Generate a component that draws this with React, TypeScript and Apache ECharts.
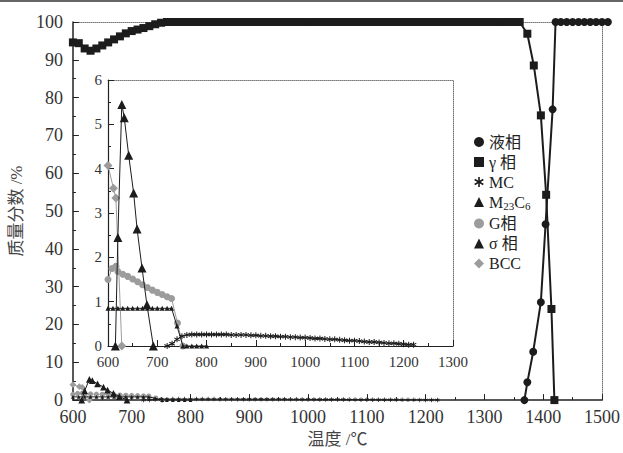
import React, { useEffect, useRef } from "react";
import * as echarts from "echarts";

// ---- data (temperature °C, mass fraction %) ----
const gammaT = [
  600, 610, 620, 630, 640, 650, 660, 670, 680, 690, 700, 710, 720, 730, 740, 750,
  760, 770, 780, 790, 800, 810, 820, 830, 840, 850,
  860, 870, 880, 890, 900, 910, 920, 930, 940, 950,
  960, 970, 980, 990, 1000, 1010, 1020, 1030, 1040, 1050,
  1060, 1070, 1080, 1090, 1100, 1110, 1120, 1130, 1140, 1150,
  1160, 1170, 1180, 1190, 1200, 1210, 1220, 1230, 1240, 1250,
  1260, 1270, 1280, 1290, 1300, 1310, 1320, 1330, 1340, 1350,
  1360, 1373, 1384, 1396, 1405, 1414, 1419,
];
const gammaV = [
  94.6, 94.4, 93.0, 92.4, 93.0, 93.8, 94.6, 95.4, 96.2, 97.0, 97.6, 98.0, 98.4, 98.9, 99.4, 99.8,
  100, 100, 100, 100, 100, 100, 100, 100, 100, 100,
  100, 100, 100, 100, 100, 100, 100, 100, 100, 100,
  100, 100, 100, 100, 100, 100, 100, 100, 100, 100,
  100, 100, 100, 100, 100, 100, 100, 100, 100, 100,
  100, 100, 100, 100, 100, 100, 100, 100, 100, 100,
  100, 100, 100, 100, 100, 100, 100, 100, 100, 100,
  100, 96.9, 88.5, 75.3, 54.3, 24.1, 0,
];

const liquidT = [1368, 1373, 1383, 1396, 1404, 1416, 1421, 1430, 1440, 1450, 1460, 1470, 1480, 1490, 1500, 1510];
const liquidV = [0, 4.7, 12.8, 25.9, 46.5, 76.9, 100, 100, 100, 100, 100, 100, 100, 100, 100, 100];

const mcT = [
  720, 730, 740, 750, 760, 770, 780, 790, 800, 810,
  820, 830, 840, 850, 860, 870, 880, 890, 900, 910,
  920, 930, 940, 950, 960, 970, 980, 990, 1000, 1010,
  1020, 1030, 1040, 1050, 1060, 1070, 1080, 1090, 1100, 1110,
  1120, 1130, 1140, 1150, 1160, 1170, 1180, 1190, 1200, 1210,
  1220,
];
const mcV = [
  0, 0.05, 0.15, 0.22, 0.25, 0.26, 0.26, 0.26, 0.26, 0.26,
  0.26, 0.26, 0.26, 0.25, 0.25, 0.25, 0.25, 0.24, 0.24, 0.23,
  0.23, 0.22, 0.22, 0.21, 0.21, 0.2, 0.2, 0.19, 0.19, 0.18,
  0.17, 0.17, 0.16, 0.15, 0.15, 0.14, 0.13, 0.12, 0.12, 0.11,
  0.1, 0.09, 0.09, 0.08, 0.07, 0.06, 0.06, 0.05, 0.04, 0.03,
  0.03,
];

const m23T = [600, 610, 620, 630, 640, 650, 660, 670, 680, 690, 700, 710, 720, 729, 740, 752, 760, 770, 780, 790, 800];
const m23V = [0.85, 0.85, 0.85, 0.85, 0.85, 0.85, 0.85, 0.85, 0.85, 0.85, 0.85, 0.85, 0.85, 0.85, 0.45, 0, 0, 0, 0, 0, 0];

const gT = [600, 608, 616, 620, 630, 640, 650, 660, 670, 680, 690, 700, 710, 720, 729, 741, 752];
const gV = [1.5, 1.75, 1.8, 1.68, 1.62, 1.57, 1.51, 1.45, 1.38, 1.32, 1.26, 1.21, 1.16, 1.11, 1.07, 0.52, 0];

const sigmaT = [615, 620, 628, 633, 642, 652, 659, 669, 679, 692];
const sigmaV = [0, 2.45, 5.45, 5.15, 4.3, 3.45, 2.64, 1.76, 0.93, 0];

const bccT = [600, 611, 616, 628];
const bccV = [4.07, 3.56, 3.34, 0];

const mainXTicks = { min: 600, max: 1500, interval: 100 };
const mainYTicks = { min: 0, max: 100, interval: 10 };
const insetXTicks = { min: 600, max: 1300, interval: 100 };
const insetYTicks = { min: 0, max: 6, interval: 1 };

const ASTERISK =
  "path://M-0.8,-5L0.8,-5L0.8,5L-0.8,5Z" +
  "M3.93,3.19L-4.73,-1.81L-3.93,-3.19L4.73,1.81Z" +
  "M-4.73,1.81L3.93,-3.19L4.73,-1.81L-3.93,3.19Z";

const zip = (t: number[], v: number[]) => t.map((x, i) => [x, v[i]]);

const SERIF = "Liberation Serif, Times New Roman, Noto Sans CJK SC, serif";
const BLACK = "#1c1c1c";
const GRAY = "#9c9c9c";
const plain = (v: number) => String(v);

export default function App() {
  const ref = useRef<HTMLDivElement>(null);
  useEffect(() => {
    if (!ref.current) return;
    const chart = echarts.init(ref.current, undefined, { renderer: "svg" });

    const solidAxis = (fs: number, margin: number, lw: number) => ({
      axisLine: { show: true, onZero: false, lineStyle: { color: "#222", width: lw } },
      axisTick: { show: true, inside: true, length: 6, lineStyle: { color: "#222", width: 1 } },
      minorTick: { show: true, splitNumber: 2, length: 3, lineStyle: { color: "#222", width: 1 } },
      splitLine: { show: false },
      axisLabel: { fontSize: fs, fontFamily: SERIF, color: "#333", margin, formatter: plain },
    });
    const dottedAxis = {
      axisLine: { show: true, onZero: false, lineStyle: { color: "#777", width: 1, type: "dotted" } },
      axisTick: { show: false },
      axisLabel: { show: false },
      splitLine: { show: false },
    };

    const small = (
      name: string,
      data: number[][],
      xi: number,
      yi: number,
      symbol: string,
      size: number,
      color: string,
      z = 3
    ) => ({
      name,
      type: "line",
      xAxisIndex: xi,
      yAxisIndex: yi,
      data,
      symbol,
      symbolSize: size,
      z,
      lineStyle: { color, width: 1 },
      itemStyle: { color },
      emphasis: { disabled: true },
    });

    const phaseSeries = (xi: number, yi: number, scale: number) => [
      small("G相", zip(gT, gV), xi, yi, "circle", 7 * scale, GRAY, 2),
      small("BCC", zip(bccT, bccV), xi, yi, "diamond", 9 * scale, GRAY, 2),
      small("M23C6", zip(m23T, m23V), xi, yi, "triangle", 5 * scale, BLACK, 3),
      small("MC", zip(mcT, mcV), xi, yi, ASTERISK, 6 * scale, BLACK, 3),
      small("σ 相", zip(sigmaT, sigmaV), xi, yi, "triangle", 9 * scale, BLACK, 4),
    ];

    chart.setOption({
      animation: false,
      backgroundColor: "#fff",
      graphic: [
        { type: "rect", shape: { x: 0, y: 0, width: 623, height: 2 }, style: { fill: "#666" } },
      ],
      grid: [
        { left: 67, right: 18, top: 22, bottom: 46 },
        { left: 108, right: 170, top: 80, bottom: 107, show: true, backgroundColor: "#fff", borderWidth: 0 },
      ],
      legend: {
        orient: "vertical",
        left: 469,
        top: 129,
        itemGap: 4,
        itemWidth: 10,
        itemHeight: 10,
        data: [
          { name: "液相", icon: "circle" },
          { name: "γ 相", icon: "rect" },
          { name: "MC", icon: ASTERISK },
          { name: "M23C6", icon: "triangle" },
          { name: "G相", icon: "circle" },
          { name: "σ 相", icon: "triangle" },
          { name: "BCC", icon: "diamond" },
        ],
        formatter: (n: string) => (n === "M23C6" ? "{m|M}{s|23}{m|C}{s|6}" : n),
        textStyle: {
          fontSize: 16,
          fontFamily: SERIF,
          color: "#222",
          rich: {
            m: { fontSize: 16, fontFamily: SERIF, color: "#222", lineHeight: 19 },
            s: { fontSize: 11, fontFamily: SERIF, color: "#222", lineHeight: 9, verticalAlign: "bottom" },
          },
        },
      },
      xAxis: [
        {
          gridIndex: 0,
          type: "value",
          position: "bottom",
          ...mainXTicks,
          ...solidAxis(18, 8, 1.5),
          name: "温度 /℃",
          nameLocation: "middle",
          nameGap: 30,
          nameTextStyle: { fontSize: 17, fontFamily: SERIF, color: "#444" },
        },
        { gridIndex: 0, type: "value", position: "top", ...mainXTicks, ...dottedAxis },
        {
          gridIndex: 1,
          type: "value",
          position: "bottom",
          ...insetXTicks,
          ...solidAxis(15, 8, 1.2),
        },
        { gridIndex: 1, type: "value", position: "top", ...insetXTicks, ...dottedAxis },
      ],
      yAxis: [
        {
          gridIndex: 0,
          type: "value",
          position: "left",
          ...mainYTicks,
          ...solidAxis(18, 10, 1.5),
          name: "质量分数 /%",
          nameLocation: "middle",
          nameRotate: 90,
          nameGap: 39,
          nameTextStyle: { fontSize: 17, fontFamily: SERIF, color: "#444" },
        },
        { gridIndex: 0, type: "value", position: "right", ...mainYTicks, ...dottedAxis },
        {
          gridIndex: 1,
          type: "value",
          position: "left",
          ...insetYTicks,
          ...solidAxis(15, 6, 1.2),
        },
        { gridIndex: 1, type: "value", position: "right", ...insetYTicks, ...dottedAxis },
      ],
      series: [
        ...phaseSeries(0, 0, 0.75),
        {
          name: "γ 相",
          type: "line",
          xAxisIndex: 0,
          yAxisIndex: 0,
          data: zip(gammaT, gammaV),
          symbol: "rect",
          symbolSize: 8,
          lineStyle: { color: BLACK, width: 2 },
          itemStyle: { color: BLACK },
          z: 5,
          emphasis: { disabled: true },
        },
        {
          name: "液相",
          type: "line",
          xAxisIndex: 0,
          yAxisIndex: 0,
          data: zip(liquidT, liquidV),
          symbol: "circle",
          symbolSize: 8,
          clip: false,
          lineStyle: { color: BLACK, width: 2 },
          itemStyle: { color: BLACK },
          z: 5,
          emphasis: { disabled: true },
        },
        ...phaseSeries(2, 2, 1),
      ],
    });
    return () => chart.dispose();
  }, []);
  return <div ref={ref} style={{ position: "fixed", left: 0, top: 0, width: 623, height: 453 }} />;
}
